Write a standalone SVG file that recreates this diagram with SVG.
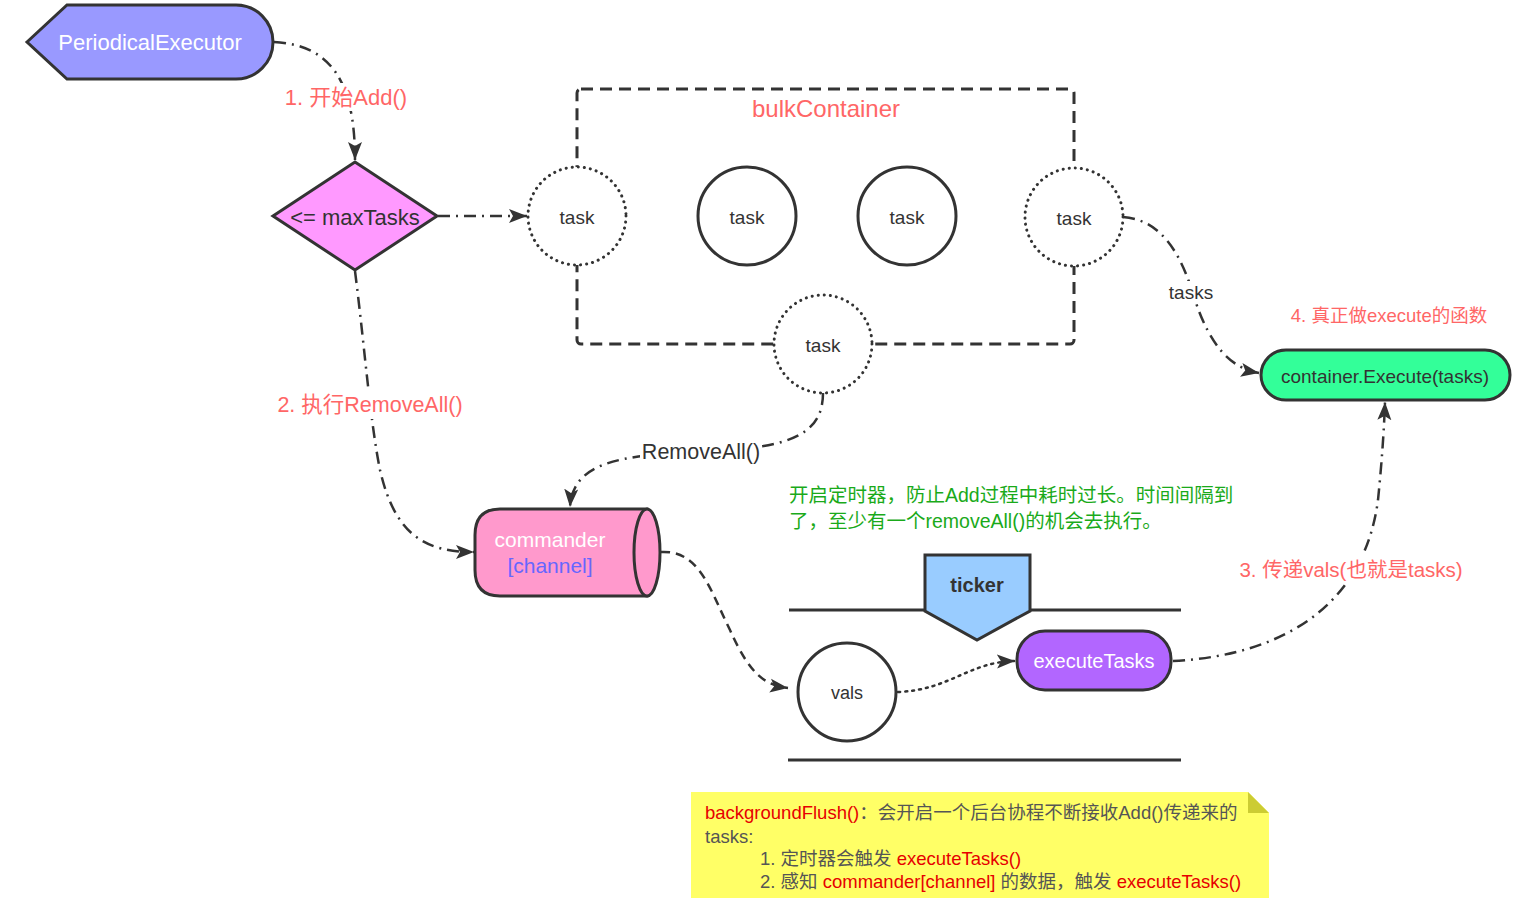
<svg xmlns="http://www.w3.org/2000/svg" width="1519" height="908" viewBox="0 0 1519 908">
<defs>
<marker id="arr" markerUnits="userSpaceOnUse" markerWidth="20" markerHeight="16" refX="18" refY="8" orient="auto">
<path d="M0,1 L18,8 L0,15 L4,8 Z" fill="#333"/>
</marker>
<style>
text{font-family:"Liberation Sans","Noto Sans CJK SC",sans-serif;}
.node{stroke:#333;stroke-width:3;}
.c{text-anchor:middle;dominant-baseline:central;}
.conn{fill:none;stroke:#333;stroke-width:2.5;}
.dd{stroke-dasharray:12,6,2,6;}
.da{stroke-dasharray:9,6;}
.dt{stroke-dasharray:2,5;stroke-linecap:round;}
.red{fill:#ff6666;}
.dotc{fill:#fff;stroke:#333;stroke-width:3;stroke-dasharray:0.1,6;stroke-linecap:round;}
.solc{fill:#fff;stroke:#333;stroke-width:3;}
.lbl{fill:#333;font-size:19px;}
.note{font-size:18.5px;fill:#555;}
.nr{fill:#e60000;}
</style>
</defs>

<g id="connectors">
<path class="conn dd" d="M274,42 C330,45 355,80 355,160" marker-end="url(#arr)"/>
<path class="conn dd" d="M438,216 L527,216" marker-end="url(#arr)"/>
<path class="conn dd" d="M1123,217 C1165,220 1183,260 1195,300 C1210,345 1230,368 1259,373" marker-end="url(#arr)"/>
<path class="conn dd" d="M823,393 C823,440 780,448 700,452 C620,455 573,462 570,507" marker-end="url(#arr)"/>
<path class="conn dd" d="M355,271 C365,350 370,420 380,470 C395,535 425,552 474,552" marker-end="url(#arr)"/>
<path class="conn da" d="M661,552 C700,550 710,590 730,630 C750,675 765,685 788,688" marker-end="url(#arr)"/>
<path class="conn dt" d="M898,692 C950,690 968,662 1015,661" marker-end="url(#arr)"/>
<path class="conn dd" d="M1173,661 C1290,655 1365,600 1378,500 C1382,460 1384,430 1385,402" marker-end="url(#arr)"/>
</g>

<g id="labels">
<rect x="281" y="83" width="132" height="28" fill="#fff"/>
<text class="c red" x="346" y="97" font-size="22">1. 开始Add()</text>
<rect x="1166" y="281" width="50" height="22" fill="#fff"/>
<text class="c lbl" x="1191" y="292">tasks</text>
<rect x="640" y="439" width="122" height="26" fill="#fff"/>
<text class="c" x="701" y="452" font-size="21.5" fill="#333">RemoveAll()</text>
<rect x="274" y="391" width="192" height="28" fill="#fff"/>
<text class="c red" x="370" y="405" font-size="21.5">2. 执行RemoveAll()</text>
<rect x="1238" y="555" width="226" height="28" fill="#fff"/>
<text class="c red" x="1351" y="569" font-size="20.5">3. 传递vals(也就是tasks)</text>
<text class="c red" x="1389" y="315" font-size="18.5">4. 真正做execute的函数</text>
</g>

<g id="PeriodicalExecutor">
<path class="node" fill="#9999ff" d="M27,42 L67,5 H236 A37,37 0 0 1 273,42 A37,37 0 0 1 236,79 H67 Z"/>
<text class="c" x="150" y="42" font-size="22" fill="#fff">PeriodicalExecutor</text>
</g>

<g id="maxTasks">
<path class="node" fill="#ff99ff" d="M273,216 L355,162 L437,216 L355,270 Z"/>
<text class="c" x="355" y="217" font-size="22" fill="#333">&lt;= maxTasks</text>
</g>

<g id="bulkContainer">
<rect x="577" y="89" width="497" height="255" rx="4" fill="none" stroke="#333" stroke-width="3" stroke-dasharray="12,7"/>
<text class="c red" x="826" y="108" font-size="24">bulkContainer</text>
</g>

<g id="task1"><circle class="dotc" cx="577" cy="216" r="49"/><text class="c lbl" x="577" y="217">task</text></g>
<g id="task2"><circle class="solc" cx="747" cy="216" r="49"/><text class="c lbl" x="747" y="217">task</text></g>
<g id="task3"><circle class="solc" cx="907" cy="216" r="49"/><text class="c lbl" x="907" y="217">task</text></g>
<g id="task4"><circle class="dotc" cx="1074" cy="217" r="49"/><text class="c lbl" x="1074" y="218">task</text></g>
<g id="task5"><circle class="dotc" cx="823" cy="344" r="49"/><text class="c lbl" x="823" y="345">task</text></g>

<g id="containerExecute">
<rect class="node" x="1261" y="350" width="249" height="50" rx="25" fill="#33ff99"/>
<text class="c lbl" x="1385" y="376">container.Execute(tasks)</text>
</g>

<g id="commander">
<path class="node" fill="#ff99cc" d="M500,509 H647 V596 H500 Q475,596 475,570 V535 Q475,509 500,509 Z"/>
<ellipse class="node" cx="647" cy="552.5" rx="13" ry="43.5" fill="#ff99cc"/>
<text class="c" x="550" y="539" font-size="21" fill="#fff">commander</text>
<text class="c" x="550" y="565" font-size="21" fill="#6666ff">[channel]</text>
</g>

<g id="timerNote">
<text x="789" y="502" font-size="19.5" fill="#1aaa1a">开启定时器，防止Add过程中耗时过长。时间间隔到</text>
<text x="789" y="528" font-size="19.5" fill="#1aaa1a">了，至少有一个removeAll()的机会去执行。</text>
</g>

<g id="lanes">
<line x1="789" y1="610" x2="1181" y2="610" stroke="#333" stroke-width="3"/>
<line x1="788" y1="760" x2="1181" y2="760" stroke="#333" stroke-width="3"/>
</g>

<g id="ticker">
<path class="node" fill="#99ccff" d="M925,555 H1030 V611 L977,640 L925,611 Z"/>
<text class="c" x="977" y="585" font-size="20" font-weight="bold" fill="#333">ticker</text>
</g>

<g id="vals">
<circle class="solc" cx="847" cy="692" r="49"/>
<text class="c" x="847" y="693" font-size="18" fill="#333">vals</text>
</g>

<g id="executeTasks">
<rect class="node" x="1017" y="631" width="154" height="59" rx="28" fill="#b266ff"/>
<text class="c" x="1094" y="661" font-size="20" fill="#fff">executeTasks</text>
</g>

<g id="noteBox">
<path d="M691,792 H1248 L1269,813 V898 H691 Z" fill="#ffff66"/>
<path d="M1248,792 L1269,813 H1248 Z" fill="#cccc33"/>
<text class="note" x="705" y="819"><tspan class="nr">backgroundFlush()</tspan>：会开启一个后台协程不断接收Add()传递来的</text>
<text class="note" x="705" y="843">tasks:</text>
<text class="note" x="760" y="865">1. 定时器会触发 <tspan class="nr">executeTasks()</tspan></text>
<text class="note" x="760" y="888">2. 感知 <tspan class="nr">commander[channel]</tspan> 的数据，触发 <tspan class="nr">executeTasks()</tspan></text>
</g>
</svg>
